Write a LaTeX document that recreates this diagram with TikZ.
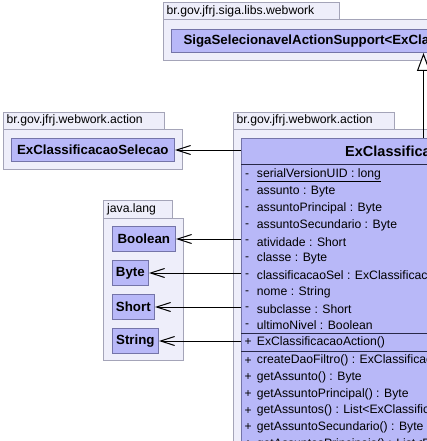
\documentclass[tikz,border=0pt]{standalone}
\usepackage{fontspec}
\setmainfont{Liberation Sans}
\usetikzlibrary{arrows.meta}
\definecolor{pkgfill}{RGB}{238,238,250}
\definecolor{pkgline}{RGB}{164,164,184}
\definecolor{clsfill}{RGB}{184,184,248}
\definecolor{clsline}{RGB}{116,116,168}
\definecolor{sepline}{RGB}{40,40,72}
\tikzset{
  pkgbox/.style={draw=pkgline,fill=pkgfill,line width=1pt},
  pkglabel/.style={anchor=west,inner sep=0pt,font=\fontsize{12.2}{14}\selectfont},
  clsbox/.style={draw=clsline,fill=clsfill,line width=1pt,inner sep=0pt,anchor=north west,
    font=\fontsize{13.3}{15}\selectfont\bfseries},
  member/.style={anchor=west,inner sep=0pt,font=\fontsize{12.2}{14}\selectfont},
  vis/.style={anchor=west,inner sep=0pt,font=\fontsize{12}{14}\selectfont},
  dep/.style={line width=1pt,-{Straight Barb[length=14pt,width=9pt]}},
  gen/.style={line width=1pt,-{Triangle[length=18pt,width=13pt,fill=white]}},
  sep/.style={draw=sepline,line width=1pt}
}
\begin{document}
\begin{tikzpicture}[x=1pt,y=-1pt]
\useasboundingbox (0,0) rectangle (427,441);
\clip (0,0) rectangle (427,441);
% background
\fill[white] (0,0) rectangle (427,441);
% top package
\draw[pkgbox] (163,3) rectangle (339,20);
\draw[pkgbox] (163,20) rectangle (470,61);
\node[pkglabel] (ptop) at (166.5,11.5) {br.gov.jfrj.siga.libs.webwork};
\node[clsbox,minimum width=504pt,minimum height=23pt,text width=480pt,align=left] (super) at (171,29)
  {SigaSelecionavelActionSupport<ExClassificacaoAction>};
% left package
\draw[pkgbox] (3,112) rectangle (164,129);
\draw[pkgbox] (3,129) rectangle (182,169);
\node[pkglabel] (pleft) at (6.5,120.5) {br.gov.jfrj.webwork.action};
\node[clsbox,minimum width=163.3pt,minimum height=23pt] (sel) at (10.7,138) {ExClassificacaoSelecao};
% java.lang package
\draw[pkgbox] (103,200) rectangle (172,218);
\draw[pkgbox] (103,218) rectangle (183,360);
\node[pkglabel] (plang) at (107,209) {java.lang};
\node[clsbox,minimum width=63.3pt,minimum height=25pt] (bool) at (111.7,226) {Boolean};
\node[clsbox,minimum width=36.3pt,minimum height=25pt] (byte) at (111.7,260) {Byte};
\node[clsbox,minimum width=42.3pt,minimum height=25pt] (short) at (111.7,294) {Short};
\node[clsbox,minimum width=46.3pt,minimum height=25pt] (string) at (111.7,328) {String};
% main package
\draw[pkgbox] (233,112) rectangle (394,129);
\draw[pkgbox] (233,129) rectangle (700,700);
\node[pkglabel] (pmain) at (236.5,120.5) {br.gov.jfrj.webwork.action};
% main class
\node[clsbox,minimum width=364pt,minimum height=420pt] (main) at (241,138) {};
\node[inner sep=0pt,font=\fontsize{14.5}{16}\selectfont\bfseries] (title) at (423,151.5) {ExClassificacaoAction};
\draw[sep] (241,164) -- (700,164);
\draw[sep] (241,333.5) -- (700,333.5);
\draw[sep] (241,351) -- (700,351);
% attributes
\foreach \y/\t [count=\i] in {
  175.3/{\underline{serialVersionUID : long}},
  192/{assunto : Byte},
  208.7/{assuntoPrincipal : Byte},
  225.4/{assuntoSecundario : Byte},
  242/{atividade : Short},
  258.8/{classe : Byte},
  275.5/{classificacaoSel : ExClassificacaoSelecao},
  292.2/{nome : String},
  308.9/{subclasse : Short},
  325.6/{ultimoNivel : Boolean}}{
  \node[vis] (av\i) at (245,\y) {-};
  \node[member] (a\i) at (256.7,\y) {\t};
}
% constructor
\node[vis] (cv) at (244.5,342.5) {+};
\node[member] (c1) at (256.7,342.5) {ExClassificacaoAction()};
% methods
\foreach \y/\t [count=\i] in {
  360.7/{createDaoFiltro() : ExClassificacaoDaoFiltro},
  377.4/{getAssunto() : Byte},
  394.1/{getAssuntoPrincipal() : Byte},
  410.8/{getAssuntos() : List<ExClassificacao>},
  427.5/{getAssuntoSecundario() : Byte},
  444.2/{getAssuntosPrincipais() : List<ExClassificacao>}}{
  \node[vis] (mv\i) at (244.5,\y) {+};
  \node[member] (m\i) at (256.7,\y) {\t};
}
% connectors
\draw[gen] (main.north) -- (super.south);
\draw[dep] (sel.east -| main.west) -- (sel.east);
\draw[dep] (bool.east -| main.west) -- (bool.east);
\draw[dep] (byte.east -| main.west) -- (byte.east);
\draw[dep] (short.east -| main.west) -- (short.east);
\draw[dep] (string.east -| main.west) -- (string.east);
\end{tikzpicture}
\end{document}
